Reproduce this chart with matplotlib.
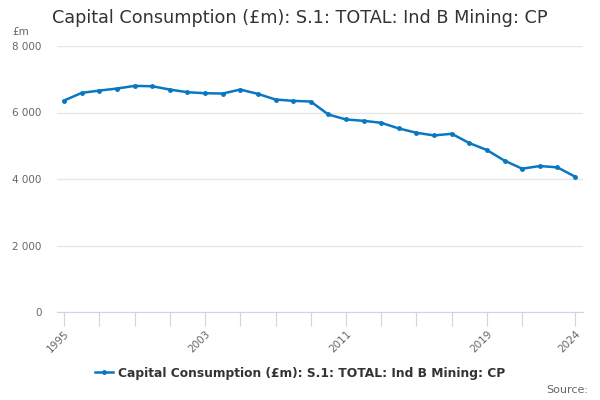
import matplotlib
matplotlib.use("Agg")
import matplotlib.pyplot as plt
from matplotlib.lines import Line2D

years = list(range(1995, 2025))
values = [6360, 6590, 6660, 6720, 6800, 6790, 6690, 6610, 6580, 6570,
          6690, 6560, 6390, 6350, 6330, 5940, 5790, 5750, 5690, 5520,
          5390, 5310, 5360, 5080, 4870, 4550, 4310, 4390, 4350, 4070]
yticks = [0, 2000, 4000, 6000, 8000]
ytick_labels = ["0", "2 000", "4 000", "6 000", "8 000"]
xticks = [1995, 1997, 1999, 2001, 2003, 2005, 2007, 2009, 2011, 2013, 2015, 2017, 2019, 2021, 2024]
xlabel_years = [1995, 2003, 2011, 2019, 2024]
title = "Capital Consumption (£m): S.1: TOTAL: Ind B Mining: CP"
color = "#0a77c2"

fig = plt.figure(figsize=(6, 4), dpi=100)
ax = fig.add_axes([57/600, 88/400, 526/600, 266/400])
ax.plot(years, values, color=color, lw=1.8, marker="o", ms=2.5)
ax.set_xlim(1994.6, 2024.45)
ax.set_ylim(0, 8000)
ax.set_yticks(yticks)
ax.set_yticklabels(ytick_labels)
ax.set_xticks(xticks)
ax.set_xticklabels([str(y) if y in xlabel_years else "" for y in xticks],
                   rotation=45, ha="right", rotation_mode="anchor")
ax.grid(axis="y", color="#e6e6e6", lw=1)
ax.set_axisbelow(True)
for s in ["top", "right", "left"]:
    ax.spines[s].set_visible(False)
ax.spines["bottom"].set_color("#ccd6eb")
ax.tick_params(axis="y", length=0, labelsize=7.5, labelcolor="#666666", pad=11)
ax.tick_params(axis="x", length=10, color="#ccd6eb", labelsize=7.5, labelcolor="#666666", pad=2)

fig.text(0.5, 0.955, title, ha="center", va="center", fontsize=12.7, color="#333333")
fig.text(12/600, 1 - 32/400, "£m", ha="left", va="center", fontsize=7.5, color="#666666")
fig.text(588/600, 1 - 390/400, "Source:", ha="right", va="center", fontsize=8, color="#666666")

h = Line2D([], [], color=color, lw=1.8, marker="o", ms=2.5)
fig.legend([h], [title], loc="center", bbox_to_anchor=(0.5, 1 - 373/400),
           frameon=False, prop={"size": 8.8, "weight": "bold"}, labelcolor="#333333",
           handlelength=1.5, handletextpad=0.4)

fig.savefig("out.png", dpi=100)
